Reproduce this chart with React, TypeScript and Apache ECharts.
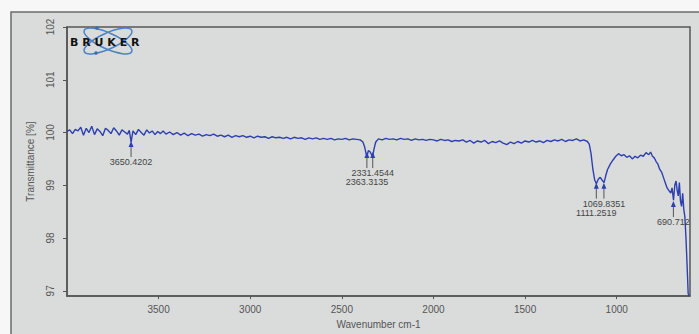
import React, { useEffect, useRef } from "react";
import * as echarts from "echarts";

// Spectrum: wavenumber (cm-1) and transmittance (%)
const wavenumbers = [
  4000, 3985, 3970, 3955, 3940, 3925, 3910, 3895, 3880, 3865, 3850, 3835, 3820, 3805, 3790, 3775, 3760, 3745, 3730, 3715,
  3700, 3685, 3670, 3660, 3650, 3640, 3625, 3610, 3595, 3580, 3565, 3550, 3535, 3520, 3505, 3490, 3475, 3460, 3440, 3420,
  3400, 3380, 3360, 3340, 3320, 3300, 3280, 3260, 3240, 3220, 3200, 3180, 3160, 3140, 3120, 3100, 3080, 3060, 3040, 3020,
  3000, 2980, 2960, 2940, 2920, 2900, 2880, 2860, 2840, 2820, 2800, 2780, 2760, 2740, 2720, 2700, 2680, 2660, 2640, 2620,
  2600, 2580, 2560, 2540, 2520, 2500, 2480, 2460, 2440, 2420, 2400, 2385, 2375, 2368, 2363, 2355, 2345, 2338, 2331, 2325,
  2315, 2300, 2280, 2260, 2240, 2220, 2200, 2180, 2160, 2140, 2120, 2100, 2080, 2060, 2040, 2020, 2000, 1980, 1960, 1940,
  1920, 1900, 1880, 1860, 1840, 1820, 1800, 1780, 1760, 1740, 1720, 1700, 1680, 1660, 1640, 1620, 1600, 1580, 1560, 1540,
  1520, 1500, 1480, 1460, 1440, 1420, 1400, 1380, 1360, 1340, 1320, 1300, 1280, 1260, 1240, 1220, 1200, 1180, 1160, 1150,
  1140, 1130, 1120, 1111, 1100, 1090, 1080, 1069, 1060, 1050, 1035, 1020, 1005, 990, 975, 960, 945, 930, 915, 900,
  885, 870, 855, 840, 825, 815, 805, 795, 785, 775, 765, 755, 745, 735, 725, 715, 705, 698, 690, 683,
  676, 670, 664, 658, 652, 646, 640, 634, 628, 622, 616, 610, 605,
];
const transmittance = [
  100.02, 100.05, 99.98, 100.06, 100.03, 100.1, 99.95, 100.08, 100.0, 100.12, 99.96, 100.07, 100.02, 99.94, 100.08, 100.04, 99.98, 100.09, 100.03, 99.95,
  100.05, 100.01, 99.97, 100.04, 99.82, 100.03, 99.96, 100.06, 100.0, 99.95, 100.05, 99.99, 100.03, 99.96, 100.02, 99.98, 100.03, 99.97, 100.01, 99.96,
  100.0, 99.95, 99.99, 99.94, 99.98, 99.95, 99.97, 99.93, 99.96, 99.94, 99.97, 99.93, 99.95, 99.92, 99.95, 99.91, 99.94, 99.92, 99.94, 99.91,
  99.93, 99.9, 99.93, 99.91, 99.92, 99.89, 99.92, 99.9, 99.91, 99.89, 99.91, 99.88, 99.91, 99.89, 99.9, 99.87, 99.9, 99.88, 99.9, 99.87,
  99.89, 99.87, 99.89, 99.86, 99.88, 99.87, 99.89, 99.86, 99.88, 99.87, 99.86, 99.82, 99.72, 99.6, 99.55, 99.66, 99.63, 99.58, 99.56, 99.68,
  99.82, 99.88, 99.86, 99.89, 99.87, 99.88, 99.86, 99.89, 99.87, 99.88, 99.85, 99.88, 99.86, 99.87, 99.85, 99.87, 99.86, 99.84, 99.87, 99.85,
  99.86, 99.83, 99.85, 99.84, 99.86, 99.82, 99.85, 99.8, 99.84, 99.82, 99.85, 99.79, 99.83, 99.81, 99.84, 99.8, 99.77, 99.82, 99.79, 99.83,
  99.8, 99.84, 99.82, 99.85, 99.82, 99.84, 99.81, 99.85, 99.83, 99.86, 99.84, 99.87, 99.83, 99.86, 99.85, 99.88, 99.84, 99.86, 99.83, 99.78,
  99.6, 99.3, 99.1, 99.03, 99.12, 99.15, 99.1, 99.05, 99.18, 99.3, 99.4, 99.48, 99.55, 99.6, 99.56, 99.58, 99.53, 99.56, 99.5, 99.55,
  99.52, 99.57, 99.55, 99.62, 99.58, 99.63, 99.55, 99.52, 99.45, 99.4, 99.3, 99.25, 99.15, 99.05, 98.95, 98.9, 98.85, 98.95, 98.72, 99.0,
  99.08, 98.9, 98.8, 99.05, 98.7, 98.6, 98.85, 98.55, 98.4, 98.0, 97.5, 96.95, 96.9,
];

// Peak picks
const peakWavenumbers = [3650.4202, 2363.3135, 2331.4544, 1111.2519, 1069.8351, 690.712];
const peakLabels = ["3650.4202", "2363.3135", "2331.4544", "1111.2519", "1069.8351", "690.712"];
const peakTipValues = [99.84, 99.63, 99.63, 99.05, 99.05, 98.7];
const peakRows = [0, 1, 0, 1, 0, 0];

const xTicks = [1000, 1500, 2000, 2500, 3000, 3500];
const yTicks = [97, 98, 99, 100, 101, 102];

export default function App() {
  const ref = useRef<HTMLDivElement>(null);
  useEffect(() => {
    if (!ref.current) return;
    const chart = echarts.init(ref.current, undefined, { renderer: "svg" });
    const font = '"Liberation Sans", Arial, sans-serif';
    chart.setOption({
      animation: false,
      backgroundColor: "#f6f7f6",
      graphic: [
        {
          type: "rect",
          z: -10,
          silent: true,
          shape: { x: 11, y: 12, width: 700, height: 330 },
          style: { fill: "#d9dcdb", stroke: "#6b6b6b", lineWidth: 1.5 },
        },
        {
          type: "ellipse",
          z: 10,
          x: 108,
          y: 41,
          rotation: 0.42,
          shape: { cx: 0, cy: 0, rx: 26, ry: 8 },
          style: { fill: "none", stroke: "#4d82c4", lineWidth: 1.5 },
        },
        {
          type: "ellipse",
          z: 10,
          x: 108,
          y: 41,
          rotation: -0.42,
          shape: { cx: 0, cy: 0, rx: 26, ry: 8 },
          style: { fill: "none", stroke: "#4d82c4", lineWidth: 1.5 },
        },
        { type: "circle", z: 10, shape: { cx: 97, cy: 28, r: 1.8 }, style: { fill: "#3b6fb3" } },
        { type: "circle", z: 10, shape: { cx: 96, cy: 53, r: 1.8 }, style: { fill: "#3b6fb3" } },
        {
          type: "text",
          z: 11,
          x: 70,
          y: 42,
          style: {
            text: "B R U K E R",
            font: 'bold 11px "DejaVu Sans", sans-serif',
            fill: "#111",
            verticalAlign: "middle",
          },
        },
      ],
      grid: {
        left: 67,
        top: 27,
        right: 9,
        bottom: 29,
        show: true,
        backgroundColor: "transparent",
        borderColor: "#555",
        borderWidth: 1.5,
      },
      xAxis: {
        type: "value",
        inverse: true,
        min: 600,
        max: 4000,
        name: "Wavenumber cm-1",
        nameLocation: "middle",
        nameGap: 20,
        nameTextStyle: { color: "#555", fontFamily: font, fontSize: 10 },
        axisLine: { show: true, lineStyle: { color: "#555", width: 1.5 } },
        axisTick: { show: true, length: 3, customValues: xTicks, lineStyle: { color: "#555" } },
        axisLabel: {
          customValues: xTicks,
          formatter: (v: number) => String(v),
          color: "#555",
          fontFamily: font,
          fontSize: 10,
          margin: 8,
        },
        splitLine: { show: false },
      },
      yAxis: {
        type: "value",
        min: 96.9,
        max: 102,
        name: "Transmittance [%]",
        nameLocation: "middle",
        nameGap: 32,
        nameTextStyle: { color: "#555", fontFamily: font, fontSize: 10 },
        axisLine: { show: true, lineStyle: { color: "#555", width: 1.5 } },
        axisTick: { show: true, length: 4, customValues: yTicks, lineStyle: { color: "#555" } },
        axisLabel: {
          customValues: yTicks,
          formatter: (v: number) => String(v),
          rotate: 90,
          color: "#555",
          fontFamily: font,
          fontSize: 10,
          margin: 12,
        },
        splitLine: { show: false },
      },
      series: [
        {
          type: "line",
          data: wavenumbers.map((w, i) => [w, transmittance[i]]),
          showSymbol: false,
          lineStyle: { color: "#2e3fb0", width: 1.4 },
          z: 3,
        },
        {
          type: "custom",
          clip: false,
          z: 4,
          encode: { x: 0, y: 1 },
          data: peakWavenumbers.map((w, i) => [w, peakTipValues[i], peakRows[i]]),
          renderItem: (params: any, api: any) => {
            const p = api.coord([api.value(0), api.value(1)]);
            const row = api.value(2);
            const lblY = p[1] + 21 + row * 9;
            return {
              type: "group",
              children: [
                {
                  type: "line",
                  shape: { x1: p[0], y1: p[1] + 5, x2: p[0], y2: lblY - 5 - row * 9 },
                  style: { stroke: "#555", lineWidth: 1 },
                },
                {
                  type: "polygon",
                  shape: { points: [[p[0], p[1]], [p[0] - 2.5, p[1] + 6], [p[0] + 2.5, p[1] + 6]] },
                  style: { fill: "#2e3fb0" },
                },
                {
                  type: "text",
                  x: p[0],
                  y: lblY,
                  style: {
                    text: peakLabels[params.dataIndex],
                    fill: "#444",
                    font: '9px "Liberation Sans", Arial, sans-serif',
                    align: "center",
                    verticalAlign: "middle",
                  },
                },
              ],
            };
          },
        },
      ],
    });
    return () => chart.dispose();
  }, []);
  return (
    <div
      ref={ref}
      style={{ position: "absolute", left: 0, top: 0, width: 699, height: 334 }}
    />
  );
}
